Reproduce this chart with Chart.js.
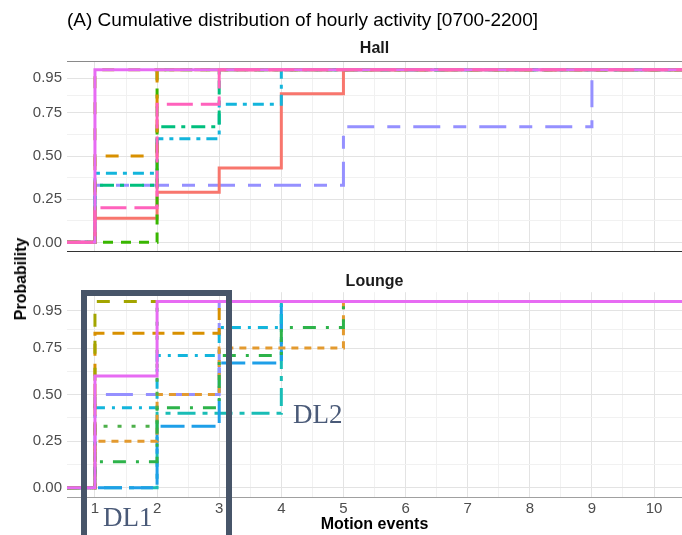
<!DOCTYPE html>
<html>
<head>
<meta charset="utf-8">
<script src="https://cdn.jsdelivr.net/npm/chart.js@4.4.1/dist/chart.umd.min.js"></script>
<style>
  body { margin: 0; background: #fff; }
  #wrap { position: relative; width: 682px; height: 535px; overflow: hidden; font-family: "Liberation Sans", Arial, sans-serif; }
  #hall { position: absolute; left: 0; top: 0; }
  #lounge { position: absolute; left: 0; top: 270px; }
  #ylab { position: absolute; left: 21px; top: 279px; transform: translate(-50%, -50%) rotate(-90deg);
          font-weight: bold; font-size: 16px; color: #000; white-space: nowrap; }
  #dlbox { position: absolute; left: 81px; top: 290px; width: 151px; height: 260px;
           border: 6px solid #475569; box-sizing: border-box; }
  .dl { position: absolute; font-family: "Liberation Serif", "Times New Roman", serif; font-size: 27px;
        color: #4a5a78; line-height: 1; }
</style>
</head>
<body>
<div id="wrap">
  <canvas id="hall" width="682" height="265"></canvas>
  <canvas id="lounge" width="682" height="265"></canvas>
  <div id="ylab">Probability</div>
  <div id="dlbox"></div>
  <div class="dl" style="left:103px;top:504px;">DL1</div>
  <div class="dl" style="left:293px;top:401px;">DL2</div>
</div>
<script>
// axis limits and breaks
const X_MIN = 0.55, X_MAX = 10.45;
const Y_MIN = -0.05, Y_MAX = 1.05;
const xBreaks = [1, 2, 3, 4, 5, 6, 7, 8, 9, 10];
const xMinor = [1.5, 2.5, 3.5, 4.5, 5.5, 6.5, 7.5, 8.5, 9.5];
const yBreaks = [0, 0.25, 0.5, 0.75, 0.95];
const yMinor = [0.125, 0.375, 0.625, 0.85];

// Hall: motion-event counts where each curve jumps, and the probability it reaches there
const hallSteps = [
  [1, 5, 9],
  [1, 2, 3, 4, 5],
  [1, 2, 3, 4],
  [1, 2, 3],
  [2],
  [1, 2],
  [1],
  [1],
  [1, 2, 3]
];
const hallProbs = [
  [0.33, 0.67, 1],
  [0.14, 0.29, 0.43, 0.86, 1],
  [0.4, 0.6, 0.8, 1],
  [0.33, 0.67, 1],
  [1],
  [0.5, 1],
  [1],
  [1],
  [0.2, 0.8, 1]
];

// Lounge
const loungeSteps = [
  [2, 4],
  [2, 3, 4],
  [1, 3],
  [1, 2, 3, 4],
  [1, 2, 3, 5],
  [1, 3],
  [1, 2],
  [1, 2, 3, 4, 5],
  [1],
  [1, 2]
];
const loungeProbs = [
  [0.4, 1],
  [0.33, 0.67, 1],
  [0.5, 1],
  [0.43, 0.71, 0.86, 1],
  [0.25, 0.5, 0.75, 1],
  [0.83, 1],
  [0.33, 1],
  [0.14, 0.43, 0.71, 0.86, 1],
  [1],
  [0.6, 1]
];

// line styles (bottom layer first)
const hallColors = ['#9590FF', '#F8766D', '#13B5DC', '#00BF7D', '#39B600', '#D89000', '#A3A500', '#E76BF3', '#FF62BC'];
const hallDashes = [[27, 13, 13, 13], [], [11, 6, 4, 6], [14, 6, 4, 6], [10, 8], [13, 12], [12, 14], [], [26, 8]];
const loungeColors = ['#19BDB6', '#1E9FE8', '#9590FF', '#13B5DC', '#E39A2F', '#D89000', '#4DB04A', '#2DB34A', '#A3A500', '#E76BF3'];
const loungeDashes = [[18, 7, 5, 7], [24, 7], [27, 13, 13, 13], [10, 7, 3, 7], [7, 6], [12, 8], [4, 10], [13, 10, 3, 10], [13, 14], []];

Chart.defaults.font.family = '"Liberation Sans", Arial, sans-serif';

function ecdf(steps, probs) {
  const pts = [{ x: X_MIN, y: 0 }];
  steps.forEach((s, i) => pts.push({ x: s, y: probs[i] }));
  pts.push({ x: X_MAX, y: probs[probs.length - 1] });
  return pts;
}

function makeDatasets(steps, probs, colors, dashes) {
  const n = steps.length;
  return steps.map((s, i) => ({
    data: ecdf(s, probs[i]),
    borderColor: colors[i],
    borderDash: dashes[i],
    borderWidth: 3,
    borderCapStyle: 'butt',
    stepped: true,
    pointRadius: 0,
    fill: false,
    order: n - i
  }));
}

function xScale(showLabels, borderColor) {
  return {
    type: 'linear', min: X_MIN, max: X_MAX,
    afterBuildTicks: s => { s.ticks = xBreaks.concat(xMinor).sort((a, b) => a - b).map(v => ({ value: v })); },
    ticks: {
      display: showLabels, autoSkip: false, maxRotation: 0, padding: 3,
      color: '#4d4d4d', font: { size: 15 },
      callback: v => xBreaks.includes(v) ? String(v) : ''
    },
    grid: {
      drawTicks: false,
      color: c => (c.tick && xBreaks.includes(c.tick.value)) ? '#e3e3e3' : '#f1f1f1'
    },
    border: { display: true, color: borderColor, width: 1 }
  };
}

function yScale() {
  return {
    min: Y_MIN, max: Y_MAX,
    afterBuildTicks: s => { s.ticks = yBreaks.concat(yMinor).sort((a, b) => a - b).map(v => ({ value: v })); },
    afterFit: s => { s.width = 67; },
    ticks: {
      autoSkip: false, padding: 5, color: '#4d4d4d', font: { size: 15 },
      callback: v => yBreaks.includes(v) ? v.toFixed(2) : ''
    },
    grid: {
      drawTicks: false,
      color: c => (c.tick && yBreaks.includes(c.tick.value)) ? '#e3e3e3' : '#f1f1f1'
    },
    border: { display: false }
  };
}

const hallX = xScale(false, '#333333');
hallX.afterFit = s => { s.height = 0; };

new Chart(document.getElementById('hall'), {
  type: 'line',
  data: { datasets: makeDatasets(hallSteps, hallProbs, hallColors, hallDashes) },
  options: {
    responsive: false, animation: false, devicePixelRatio: 1,
    layout: { padding: { left: 0, right: 0, top: 0, bottom: 2 } },
    scales: {
      x: hallX,
      xTop: {
        type: 'linear', position: 'top', min: X_MIN, max: X_MAX,
        ticks: { display: false }, grid: { display: false },
        border: { display: true, color: '#8a8a8a', width: 1 },
        afterFit: s => { s.height = 0; }
      },
      y: yScale()
    },
    plugins: {
      legend: { display: false },
      tooltip: { enabled: false },
      title: {
        display: true, text: '(A) Cumulative distribution of hourly activity [0700-2200]',
        align: 'start', fullSize: false, color: '#000',
        font: { size: 19, weight: 'normal' }, padding: { top: 9, bottom: 4 }
      },
      subtitle: {
        display: true, text: 'Hall', align: 'center', fullSize: false, color: '#1a1a1a',
        font: { size: 16, weight: 'bold' }, padding: { top: 3, bottom: 3 }
      }
    }
  }
});

const loungeX = xScale(true, '#a0a0a0');
loungeX.afterFit = s => { s.height = 38; };
loungeX.title = {
  display: true, text: 'Motion events', color: '#000',
  font: { size: 16, weight: 'bold' }, padding: { top: 0, bottom: 1 }
};

new Chart(document.getElementById('lounge'), {
  type: 'line',
  data: { datasets: makeDatasets(loungeSteps, loungeProbs, loungeColors, loungeDashes) },
  options: {
    responsive: false, animation: false, devicePixelRatio: 1,
    layout: { padding: 0 },
    scales: { x: loungeX, y: yScale() },
    plugins: {
      legend: { display: false },
      tooltip: { enabled: false },
      title: {
        display: true, text: 'Lounge', align: 'center', fullSize: false, color: '#1a1a1a',
        font: { size: 16, weight: 'bold' }, padding: { top: 2, bottom: 1 }
      }
    }
  }
});
</script>
</body>
</html>
